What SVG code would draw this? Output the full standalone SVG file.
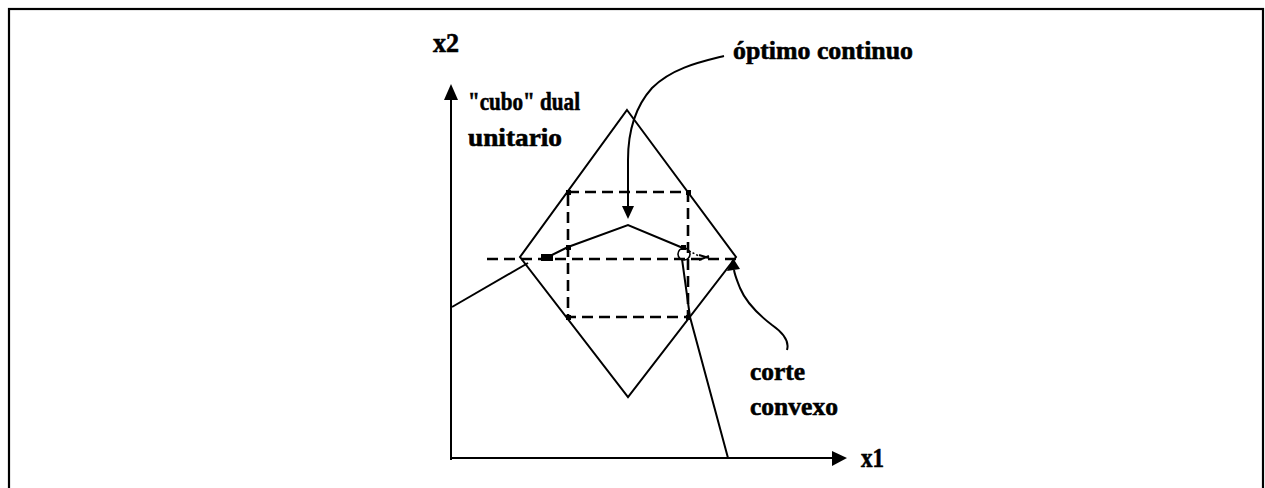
<svg xmlns="http://www.w3.org/2000/svg" width="1265" height="488" viewBox="0 0 1265 488">
<style>
.t{font-family:"Liberation Serif","DejaVu Serif",serif;font-weight:bold;font-size:26px;fill:#000;stroke:#000;stroke-width:0.6}
.ax{font-size:27px}
.s{fill:none;stroke:#000;stroke-width:2}
.d{fill:none;stroke:#000;stroke-width:2.6;stroke-dasharray:11 6}
</style>
<rect x="9" y="9" width="1254" height="500" fill="none" stroke="#000" stroke-width="2.2"/>
<g id="axes">
<line class="s" x1="451" y1="460" x2="451" y2="98"/>
<path d="M444,100L451,84L458,100z" fill="#000"/>
<line class="s" x1="451" y1="458" x2="832" y2="458"/>
<path d="M832,451L847,458L832,466z" fill="#000"/>
<text class="t ax" x="433" y="52" textLength="26" lengthAdjust="spacingAndGlyphs">x2</text>
<text class="t ax" x="861" y="467" textLength="23" lengthAdjust="spacingAndGlyphs">x1</text>
</g>
<g id="diamond">
<polygon class="s" points="627,110 736,257 628,397 520,257"/>
</g>
<g id="cube">
<rect class="d" x="568" y="192" width="120" height="125"/>
<line class="d" x1="487" y1="259" x2="736" y2="259"/>
<g fill="#000">
<rect x="566" y="190" width="5" height="5"/>
<rect x="686" y="190" width="5" height="5"/>
<rect x="566" y="315" width="5" height="5"/>
<rect x="686" y="315" width="5" height="5"/>
<rect x="566" y="245" width="5" height="5"/>
<rect x="681" y="245" width="5" height="5"/>
</g>
</g>
<g id="cut">
<polyline class="s" points="452,307 528,263"/>
<polyline class="s" points="550,256 568,247 628,225 683,248"/>
<circle cx="684" cy="254" r="6" fill="none" stroke="#000" stroke-width="1.6"/>
<line x1="689" y1="251" x2="699" y2="256" stroke="#000" stroke-width="1.5" stroke-dasharray="2 2"/>
<polyline class="s" points="682,259 690,317 728,458"/>
<path d="M541,254L553,254L553,261L541,261z" fill="#000"/>
<path d="M699,255L709,258M699,260L709,256" stroke="#000" stroke-width="2"/>
</g>
<g id="labels">
<text class="t" x="468" y="110" textLength="112" lengthAdjust="spacingAndGlyphs">"cubo" dual</text>
<text class="t" x="468" y="146" textLength="94" lengthAdjust="spacingAndGlyphs">unitario</text>
<text class="t" x="733" y="59" textLength="180" lengthAdjust="spacingAndGlyphs">óptimo continuo</text>
<text class="t" x="750" y="380" textLength="55" lengthAdjust="spacingAndGlyphs">corte</text>
<text class="t" x="750" y="415" textLength="88" lengthAdjust="spacingAndGlyphs">convexo</text>
</g>
<g id="connectors">
<path class="s" d="M724,56C700,62 672,68 652,88C634,108 628,135 628,160L628,208"/>
<path d="M622,206L628,219L634,206z" fill="#000"/>
<path class="s" d="M787,350C790,340 782,332 772,325C755,312 745,300 740,288C737,280 735,276 734,270"/>
<path d="M727,271L733,258L740,269z" fill="#000"/>
</g>
</svg>
